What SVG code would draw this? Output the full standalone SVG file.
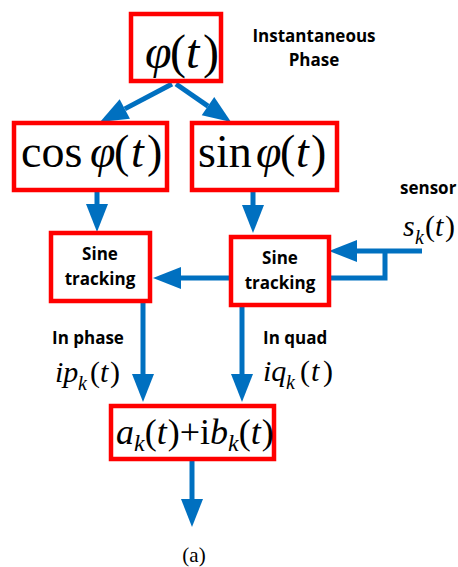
<svg xmlns="http://www.w3.org/2000/svg" width="458" height="567" viewBox="0 0 458 567">
<style>
.box{fill:#fff;stroke:#FF0000;stroke-width:4.5}
.m{font-family:"Liberation Serif","Times New Roman",serif;fill:#000}
.i{font-style:italic}
.lbl{font-family:"Open Sans","Liberation Sans",sans-serif;font-weight:bold;font-size:17px;fill:#000}
.st{font-family:"Open Sans","Liberation Sans",sans-serif;font-weight:bold;font-size:17px;fill:#000;text-anchor:middle}
.c{fill:none;stroke:#0070C0;stroke-width:5}
</style>
<defs>
<marker id="ah" markerUnits="userSpaceOnUse" markerWidth="28" markerHeight="22" refX="0" refY="11" orient="auto" overflow="visible"><path d="M0,0 L28,11 L0,22 z" fill="#0070C0"/></marker>
</defs>
<g id="connectors">
<line class="c" x1="172" y1="84" x2="124.8" y2="108.9" marker-end="url(#ah)"/>
<line class="c" x1="176" y1="84" x2="208" y2="106.1" marker-end="url(#ah)"/>
<line class="c" x1="97" y1="192" x2="97" y2="204" marker-end="url(#ah)"/>
<line class="c" x1="253" y1="192" x2="253" y2="205" marker-end="url(#ah)"/>
<line class="c" x1="229" y1="278" x2="181" y2="278" marker-end="url(#ah)"/>
<line class="c" x1="422" y1="251" x2="357" y2="251" marker-end="url(#ah)"/>
<polyline class="c" points="385,251 385,278 331,278"/>
<line class="c" x1="143" y1="303" x2="143" y2="374" marker-end="url(#ah)"/>
<line class="c" x1="242" y1="307" x2="242" y2="374" marker-end="url(#ah)"/>
<line class="c" x1="192" y1="461" x2="192" y2="499" marker-end="url(#ah)"/>
</g>
<g id="phi">
<rect class="box" x="131" y="14" width="90" height="67"/>
<text class="m" font-size="48" y="68"><tspan class="i" x="145">φ</tspan><tspan x="170">(</tspan><tspan class="i" x="186">t</tspan><tspan x="203">)</tspan></text>
</g>
<g id="label-phase">
<text class="lbl" x="314" y="42" text-anchor="middle">Instantaneous</text>
<text class="lbl" x="314" y="66" text-anchor="middle">Phase</text>
</g>
<g id="cos">
<rect class="box" x="14" y="123" width="153" height="67"/>
<text class="m" font-size="46" y="167"><tspan x="21">cos</tspan><tspan class="i" x="90">φ</tspan><tspan x="114">(</tspan><tspan class="i" x="131">t</tspan><tspan x="147">)</tspan></text>
</g>
<g id="sin">
<rect class="box" x="192" y="123" width="145" height="67"/>
<text class="m" font-size="46" y="167"><tspan x="198">sin</tspan><tspan class="i" x="256">φ</tspan><tspan x="280">(</tspan><tspan class="i" x="296">t</tspan><tspan x="311">)</tspan></text>
</g>
<g id="sine-left">
<rect class="box" x="51" y="233" width="99" height="68"/>
<text class="st" x="100" y="260">Sine</text>
<text class="st" x="100" y="285">tracking</text>
</g>
<g id="sine-right">
<rect class="box" x="231" y="237" width="98" height="68"/>
<text class="st" x="280" y="264">Sine</text>
<text class="st" x="280" y="289">tracking</text>
</g>
<g id="sensor">
<text class="lbl" x="400" y="194">sensor</text>
<text class="m" font-size="30" y="236"><tspan class="i" x="403">s</tspan><tspan class="i" font-size="20" x="415" y="244">k</tspan><tspan x="425" y="236">(</tspan><tspan class="i" x="435">t</tspan><tspan x="445">)</tspan></text>
</g>
<g id="inphase">
<text class="lbl" x="52" y="344">In phase</text>
<text class="m" font-size="30" y="382"><tspan class="i" x="55">ip</tspan><tspan class="i" font-size="20" x="78" y="390">k</tspan><tspan x="90" y="382">(</tspan><tspan class="i" x="100">t</tspan><tspan x="110">)</tspan></text>
</g>
<g id="inquad">
<text class="lbl" x="263" y="344">In quad</text>
<text class="m" font-size="30" y="381"><tspan class="i" x="263">iq</tspan><tspan class="i" font-size="20" x="286" y="389">k</tspan><tspan x="300" y="381">(</tspan><tspan class="i" x="311">t</tspan><tspan x="323">)</tspan></text>
</g>
<g id="output">
<rect class="box" x="111" y="406" width="163" height="53"/>
<text class="m" font-size="36" x="116" y="444"><tspan class="i">a</tspan><tspan class="i" font-size="24" dy="7">k</tspan><tspan dy="-7">(</tspan><tspan class="i">t</tspan><tspan dx="1">)+i</tspan><tspan class="i">b</tspan><tspan class="i" font-size="24" dy="7">k</tspan><tspan dy="-7">(</tspan><tspan class="i">t</tspan><tspan dx="1">)</tspan></text>
</g>
<text class="m" font-size="21" x="194" y="562" text-anchor="middle">(a)</text>
</svg>
